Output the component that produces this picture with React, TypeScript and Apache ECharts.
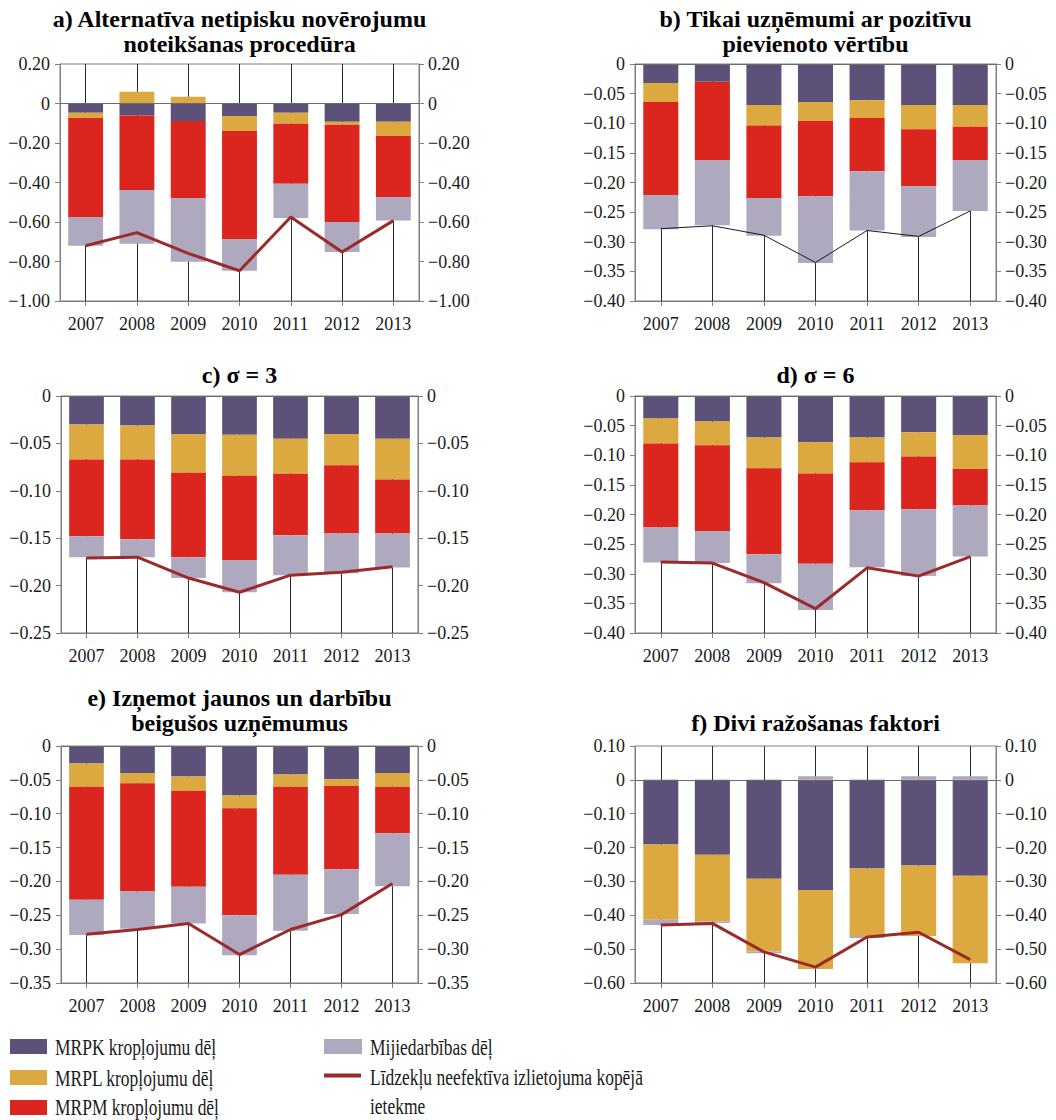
import React, { useEffect, useRef } from "react";
import * as echarts from "echarts";

// ---------- data ----------
const years = ["2007", "2008", "2009", "2010", "2011", "2012", "2013"];
const componentNames = [
  "MRPK kropļojumu dēļ",
  "MRPL kropļojumu dēļ",
  "MRPM kropļojumu dēļ",
  "Mijiedarbības dēļ",
];
const totalName = "Līdzekļu neefektīva izlietojuma kopējā ietekme";
const totalLegendText = "Līdzekļu neefektīva izlietojuma kopējā\nietekme";

const panelTitles = [
  "a) Alternatīva netipisku novērojumu\nnoteikšanas procedūra",
  "b) Tikai uzņēmumi ar pozitīvu\npievienoto vērtību",
  "c) σ = 3",
  "d) σ = 6",
  "e) Izņemot jaunos un darbību\nbeigušos uzņēmumus",
  "f) Divi ražošanas faktori",
];

// a)
const aK = [-0.047, -0.061, -0.088, -0.063, -0.047, -0.093, -0.093];
const aL = [-0.026, 0.059, 0.034, -0.076, -0.056, -0.015, -0.071];
const aM = [-0.502, -0.377, -0.39, -0.547, -0.303, -0.492, -0.309];
const aI = [-0.145, -0.272, -0.323, -0.161, -0.174, -0.152, -0.12];
const aT = [-0.72, -0.654, -0.759, -0.847, -0.575, -0.752, -0.593];
// b)
const bK = [-0.032, -0.03, -0.069, -0.064, -0.061, -0.069, -0.069];
const bL = [-0.032, 0, -0.035, -0.032, -0.03, -0.041, -0.037];
const bM = [-0.157, -0.132, -0.122, -0.127, -0.09, -0.096, -0.056];
const bI = [-0.058, -0.11, -0.064, -0.113, -0.1, -0.086, -0.086];
const bT = [-0.278, -0.273, -0.289, -0.335, -0.281, -0.291, -0.248];
// c)
const cK = [-0.03, -0.031, -0.04, -0.041, -0.045, -0.04, -0.045];
const cL = [-0.037, -0.036, -0.041, -0.043, -0.037, -0.033, -0.043];
const cM = [-0.081, -0.084, -0.089, -0.089, -0.065, -0.072, -0.057];
const cI = [-0.022, -0.019, -0.022, -0.034, -0.042, -0.042, -0.036];
const cT = [-0.171, -0.17, -0.192, -0.207, -0.189, -0.186, -0.18];
// d)
const dK = [-0.038, -0.043, -0.07, -0.078, -0.07, -0.061, -0.066];
const dL = [-0.042, -0.04, -0.052, -0.053, -0.042, -0.041, -0.057];
const dM = [-0.142, -0.145, -0.145, -0.152, -0.081, -0.089, -0.062];
const dI = [-0.059, -0.054, -0.049, -0.078, -0.096, -0.113, -0.086];
const dT = [-0.28, -0.282, -0.315, -0.359, -0.29, -0.304, -0.271];
// e)
const eK = [-0.026, -0.04, -0.045, -0.073, -0.042, -0.049, -0.04];
const eL = [-0.034, -0.015, -0.021, -0.019, -0.018, -0.01, -0.02];
const eM = [-0.167, -0.16, -0.142, -0.158, -0.13, -0.123, -0.069];
const eI = [-0.052, -0.055, -0.054, -0.059, -0.083, -0.066, -0.078];
const eT = [-0.278, -0.271, -0.262, -0.308, -0.271, -0.249, -0.203];
// f)
const fK = [-0.191, -0.221, -0.292, -0.325, -0.262, -0.253, -0.283];
const fL = [-0.222, -0.197, -0.215, -0.234, -0.199, -0.208, -0.259];
const fM = [0, 0, 0, 0, 0, 0, 0];
const fI = [-0.016, -0.005, -0.005, 0.011, -0.006, 0.011, 0.011];
const fT = [-0.429, -0.424, -0.508, -0.553, -0.464, -0.45, -0.531];

const panelData = [
  [aK, aL, aM, aI, aT],
  [bK, bL, bM, bI, bT],
  [cK, cL, cM, cI, cT],
  [dK, dL, dM, dI, dT],
  [eK, eL, eM, eI, eT],
  [fK, fL, fM, fI, fT],
];

// axis ranges [min, max, interval]
const axisRanges = [
  [-1.0, 0.2, 0.2],
  [-0.4, 0, 0.05],
  [-0.25, 0, 0.05],
  [-0.4, 0, 0.05],
  [-0.35, 0, 0.05],
  [-0.6, 0.1, 0.1],
];

// ---------- layout & style ----------
const grids = [
  { left: 60, top: 64, width: 359, height: 237 },
  { left: 635, top: 64, width: 361, height: 237 },
  { left: 61, top: 396, width: 357, height: 237 },
  { left: 635, top: 396, width: 361, height: 237 },
  { left: 61, top: 746, width: 357, height: 237 },
  { left: 635, top: 746, width: 361, height: 237 },
];
const titleTops = [6, 6, 362, 362, 685, 710];

const barColors = ["#5c5178", "#dca840", "#da261e", "#aea9be"];
const lineColors = ["#9b2b2b", "#1a1a1a", "#9b2b2b", "#9b2b2b", "#9b2b2b", "#9b2b2b"];
const lineWidths = [3, 1, 3, 3, 3, 3];
const FONT = "'Liberation Serif', 'Times New Roman', serif";
const AXIS_GRAY = "#7f7f7f";
const TEXT = "#1a1a1a";

const fmt = (v: number) =>
  Math.abs(v) < 1e-9 ? "0" : (v < 0 ? "\u2212" : "") + Math.abs(v).toFixed(2);

function buildOption() {
  const grid: any[] = [];
  const xAxis: any[] = [];
  const yAxis: any[] = [];
  const series: any[] = [];
  const graphic: any[] = [];

  grids.forEach((g, i) => {
    grid.push({
      ...g,
      show: true,
      borderColor: AXIS_GRAY,
      borderWidth: 1,
      containLabel: false,
    });
    xAxis.push({
      type: "category",
      gridIndex: i,
      data: years,
      axisLine: { show: true, onZero: false, lineStyle: { color: AXIS_GRAY, width: 1 } },
      axisTick: { show: true, alignWithLabel: true, length: 5, lineStyle: { color: AXIS_GRAY } },
      axisLabel: { fontSize: 18, fontFamily: FONT, color: TEXT, margin: 14 },
      splitLine: { show: false },
    });
    const [mn, mx, iv] = axisRanges[i];
    ["left", "right"].forEach((pos) => {
      yAxis.push({
        type: "value",
        gridIndex: i,
        position: pos,
        min: mn,
        max: mx,
        interval: iv,
        axisLine: { show: true, lineStyle: { color: AXIS_GRAY, width: 1 } },
        axisTick: { show: true, length: 5, lineStyle: { color: AXIS_GRAY } },
        axisLabel: {
          fontSize: 18,
          fontFamily: FONT,
          color: TEXT,
          margin: pos === "left" ? 10 : 9,
          formatter: fmt,
        },
        splitLine: { show: false },
      });
    });

    const data = panelData[i];
    componentNames.forEach((name, k) => {
      const s: any = {
        type: "bar",
        name,
        xAxisIndex: i,
        yAxisIndex: 2 * i,
        stack: "panel" + i,
        barWidth: "68%",
        data: data[k],
        itemStyle: { color: barColors[k] },
        z: 2,
      };
      if (k === 0) {
        s.markLine = {
          silent: true,
          symbol: "none",
          z: 1,
          label: { show: false },
          lineStyle: { color: "#2b2b2b", width: 1, type: "solid" },
          data: years.map((y) => ({ xAxis: y })),
        };
      }
      if (k === 1) {
        s.markLine = {
          silent: true,
          symbol: "none",
          z: 5,
          label: { show: false },
          lineStyle: { color: "#6a6a6a", width: 1.2, type: "solid" },
          data: [{ yAxis: 0 }],
        };
      }
      series.push(s);
    });
    series.push({
      type: "line",
      name: totalName,
      xAxisIndex: i,
      yAxisIndex: 2 * i,
      data: data[4],
      symbol: "none",
      lineStyle: { color: lineColors[i], width: lineWidths[i] },
      itemStyle: { color: lineColors[i] },
      z: 4,
    });

    graphic.push({
      type: "text",
      x: g.left + g.width / 2,
      y: titleTops[i],
      style: {
        text: panelTitles[i],
        fontSize: 24,
        fontWeight: "bold",
        fontFamily: FONT,
        fill: "#000",
        textAlign: "center",
        textVerticalAlign: "top",
        lineHeight: 25,
      },
    });
  });

  // legend (drawn as graphic)
  const rowSwatchY = [1039, 1070, 1100];
  const rowTextY = [1047, 1078, 1107];
  const legendFont = { fontSize: 23, fontFamily: FONT, fill: TEXT };
  const sx = 0.76;
  [0, 1, 2].forEach((k) => {
    graphic.push({
      type: "rect",
      shape: { x: 10, y: rowSwatchY[k], width: 37, height: 15 },
      style: { fill: barColors[k] },
    });
    graphic.push({
      type: "text",
      x: 55,
      y: rowTextY[k],
      scaleX: sx,
      style: { text: componentNames[k], ...legendFont, textAlign: "left", textVerticalAlign: "middle" },
    });
  });
  graphic.push({
    type: "rect",
    shape: { x: 324, y: rowSwatchY[0], width: 38, height: 15 },
    style: { fill: barColors[3] },
  });
  graphic.push({
    type: "text",
    x: 370,
    y: rowTextY[0],
    scaleX: sx,
    style: { text: componentNames[3], ...legendFont, textAlign: "left", textVerticalAlign: "middle" },
  });
  graphic.push({
    type: "line",
    shape: { x1: 324, y1: 1075.5, x2: 361, y2: 1075.5 },
    style: { stroke: "#9b2b2b", lineWidth: 4 },
  });
  graphic.push({
    type: "text",
    x: 370,
    y: 1063,
    scaleX: sx,
    style: {
      text: totalLegendText,
      ...legendFont,
      lineHeight: 29,
      textAlign: "left",
      textVerticalAlign: "top",
    },
  });

  return {
    animation: false,
    backgroundColor: "#ffffff",
    grid,
    xAxis,
    yAxis,
    series,
    graphic,
  };
}

export default function App() {
  const ref = useRef<HTMLDivElement>(null);
  useEffect(() => {
    if (!ref.current) return;
    const chart = echarts.init(ref.current, undefined, { renderer: "svg" });
    chart.setOption(buildOption() as any);
    return () => chart.dispose();
  }, []);
  return (
    <div
      ref={ref}
      style={{ position: "absolute", left: 0, top: 0, width: 1056, height: 1120 }}
    />
  );
}
